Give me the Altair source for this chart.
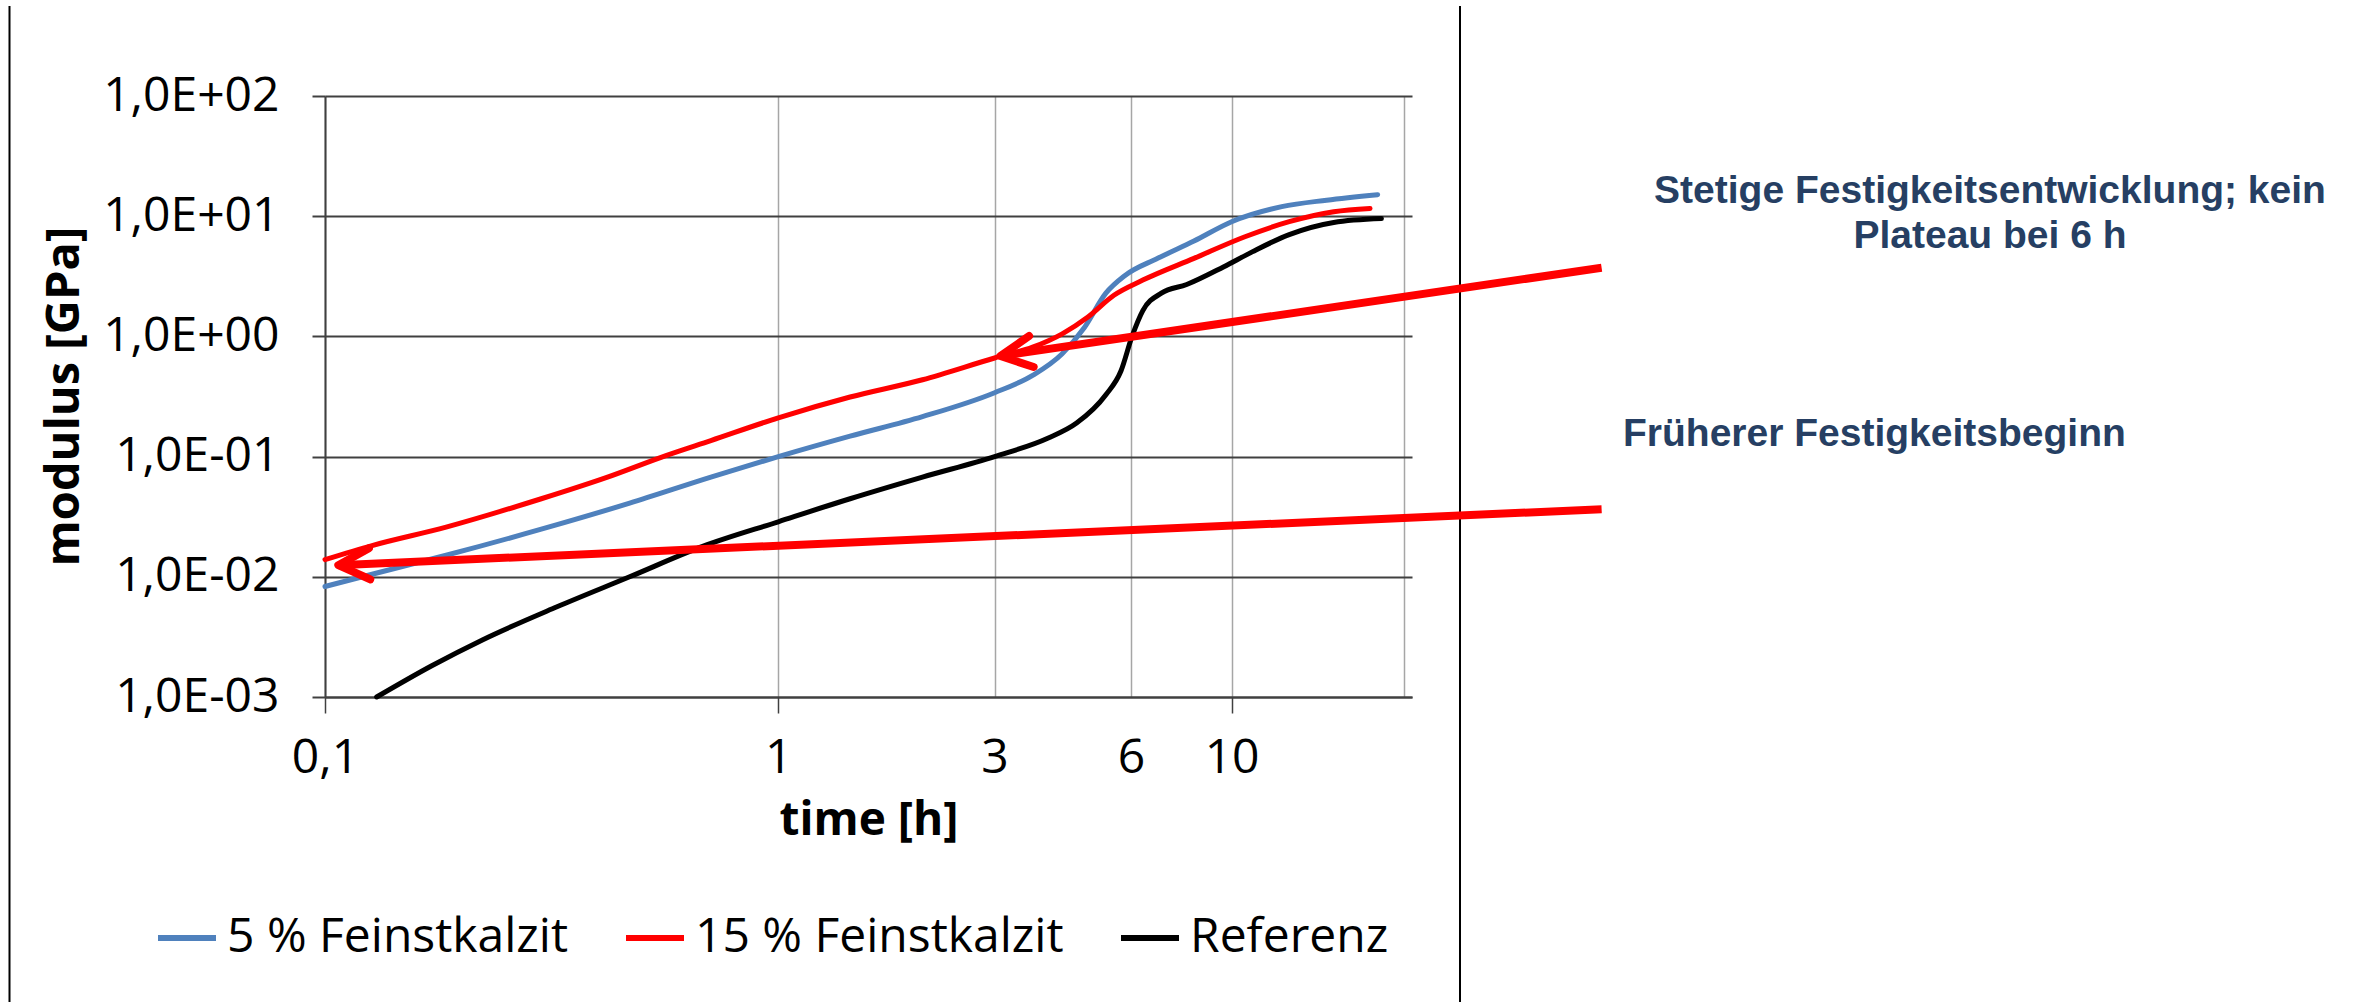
import altair as alt
import pandas as pd

# ---------------- data ----------------
series_names = ["5 % Feinstkalzit", "15 % Feinstkalzit", "Referenz"]
series_colors = ["#4F81BD", "#FF0000", "#000000"]

t_5 = [0.1, 0.127, 0.185, 0.30, 0.47, 0.71, 1.0, 1.44, 2.08, 3.0, 3.64, 4.23, 4.73,
       5.28, 5.81, 6.87, 8.26, 10.0, 12.9, 16.2, 21.0]
v_5 = [0.0083, 0.0105, 0.0151, 0.0249, 0.041, 0.0675, 0.100, 0.148, 0.215, 0.340, 0.474,
       0.718, 1.18, 2.29, 3.20, 4.46, 6.21, 9.0, 12.0, 13.6, 15.1]

t_15 = [0.1, 0.127, 0.185, 0.30, 0.42, 0.565, 0.71, 1.0, 1.44, 2.08, 3.0, 3.64, 4.23,
        4.82, 5.5, 6.37, 8.26, 10.7, 13.4, 16.8, 20.2]
v_15 = [0.0139, 0.0182, 0.0259, 0.0446, 0.0675, 0.102, 0.136, 0.210, 0.313, 0.436, 0.661,
        0.813, 1.05, 1.45, 2.20, 2.94, 4.46, 6.75, 9.0, 10.9, 11.6]

t_ref = [0.130, 0.172, 0.223, 0.324, 0.47, 0.681, 1.0, 1.44, 2.08, 3.0, 3.93, 4.55, 5.28,
         5.70, 6.03, 6.37, 7.0, 7.96, 9.59, 11.1, 13.4, 16.8, 21.4]
v_ref = [0.001, 0.00182, 0.0030, 0.0056, 0.010, 0.0179, 0.0287, 0.0446, 0.0675, 0.100,
         0.142, 0.190, 0.327, 0.515, 1.0, 1.64, 2.29, 2.70, 3.78, 5.05, 7.03, 8.87, 9.55]

x_tick_values = [0.1, 1, 3, 6, 10, 24]
x_tick_labels = ["0,1", "1", "3", "6", "10", ""]
x_ticks_without_mark = [3, 6, 24]
y_tick_values = [0.001, 0.01, 0.1, 1, 10, 100]
y_tick_labels = ["1,0E-03", "1,0E-02", "1,0E-01", "1,0E+00", "1,0E+01", "1,0E+02"]

# annotation arrows (data coordinates: tip points at a curve, tail beyond the plot)
arrow_tip_t = [3.09, 0.107]
arrow_tip_v = [0.686, 0.0125]
arrow_tail_t = [65.5, 65.5]
arrow_tail_v = [3.73, 0.0365]
arrow_head_angle = [351.6, 357.5]

annotation_texts = ["Stetige Festigkeitsentwicklung; kein", "Plateau bei 6 h",
                    "Früherer Festigkeitsbeginn"]

# ---------------- tables ----------------
rows = []
for name, ts, vs in zip(series_names, [t_5, t_15, t_ref], [v_5, v_15, v_ref]):
    for i, (t, v) in enumerate(zip(ts, vs)):
        rows.append({"series": name, "time": t, "modulus": v, "order": i})
df = pd.DataFrame(rows)

arrows_df = pd.DataFrame({
    "t_tip": arrow_tip_t, "v_tip": arrow_tip_v,
    "t_tail": arrow_tail_t, "v_tail": arrow_tail_v,
    "angle": arrow_head_angle,
})


def label_expr(values, labels):
    expr = "''"
    for v, lab in zip(values, labels):
        expr = f"(abs(datum.value - {v}) < {v * 1e-6}) ? '{lab}' : ({expr})"
    return expr


FONT = "Open Sans"
ANN_FONT = "Liberation Sans"
X_TITLE = "time [h]"
Y_TITLE = "modulus [GPa]"

x_scale = alt.Scale(type="log", domain=[0.1, 25], nice=False)
y_scale = alt.Scale(type="log", domain=[0.001, 100], nice=False)

no_tick_test = " || ".join(f"datum.value == {v}" for v in x_ticks_without_mark)

x_axis = alt.Axis(
    values=x_tick_values,
    labelExpr=label_expr(x_tick_values, x_tick_labels),
    labelFont=FONT, labelFontSize=48, labelColor="#000000", labelPadding=21,
    labelFlush=False, labelOverlap=False, labelBound=False,
    tickSize=16, tickColor="#404040", tickWidth=1.5,
    tickOpacity={"condition": {"test": no_tick_test, "value": 0}, "value": 1},
    grid=True, gridColor="#A6A6A6", gridWidth=1.5,
    domainColor="#404040", domainWidth=2,
    titleFont=FONT, titleFontSize=46, titleFontWeight="bold", titleColor="#000000",
    titleY=137, titleBaseline="alphabetic",
)

y_axis = alt.Axis(
    values=y_tick_values,
    labelExpr=label_expr(y_tick_values, y_tick_labels),
    labelFont=FONT, labelFontSize=48, labelColor="#000000", labelPadding=33,
    labelFlush=False, labelOverlap=False, labelBound=False,
    tickSize=13, tickColor="#404040", tickWidth=2,
    grid=True, gridColor="#404040", gridWidth=2,
    domainColor="#404040", domainWidth=2,
    titleFont=FONT, titleFontSize=47, titleFontWeight="bold", titleColor="#000000",
    titleX=-247, titleY=300, titleAngle=270, titleBaseline="alphabetic", titleAlign="center",
)

legend = alt.Legend(
    orient="none", legendX=-170, legendY=810, direction="horizontal",
    symbolType="stroke", symbolSize=3364, symbolStrokeWidth=6,
    labelFont=FONT, labelFontSize=48, labelColor="#000000", labelOffset=8,
    columnPadding=45, padding=0, labelLimit=1000,
)

lines = alt.Chart(df).mark_line(interpolate="monotone", strokeWidth=5, strokeCap="round").encode(
    x=alt.X("time:Q", scale=x_scale, axis=x_axis, title=X_TITLE),
    y=alt.Y("modulus:Q", scale=y_scale, axis=y_axis, title=Y_TITLE),
    color=alt.Color("series:N", scale=alt.Scale(domain=series_names, range=series_colors),
                    legend=legend, title=None, sort=series_names),
    order="order:Q",
)

shafts = alt.Chart(arrows_df).mark_rule(color="#FF0000", strokeWidth=8).encode(
    x=alt.X("t_tail:Q", scale=x_scale, title=X_TITLE),
    y=alt.Y("v_tail:Q", scale=y_scale, title=Y_TITLE),
    x2="t_tip:Q",
    y2="v_tip:Q",
)

heads = alt.Chart(arrows_df).mark_point(
    shape="M 1 -0.5 L 0 0 L 1 0.5", filled=False, size=3920, strokeWidth=8,
    color="#FF0000", opacity=1, strokeCap="round", strokeJoin="round",
).encode(
    x=alt.X("t_tip:Q", scale=x_scale, title=X_TITLE),
    y=alt.Y("v_tip:Q", scale=y_scale, title=Y_TITLE),
    angle=alt.Angle("angle:Q", scale=None),
)

one = pd.DataFrame({"k": [0]})
ANN_COLOR = "#263F63"
ann1 = alt.Chart(one).mark_text(font=ANN_FONT, fontSize=39, fontWeight="bold", color=ANN_COLOR,
                                align="center", baseline="alphabetic").encode(
    x=alt.value(1665), y=alt.value(107), text=alt.value(annotation_texts[0]))
ann2 = alt.Chart(one).mark_text(font=ANN_FONT, fontSize=39, fontWeight="bold", color=ANN_COLOR,
                                align="center", baseline="alphabetic").encode(
    x=alt.value(1665), y=alt.value(152), text=alt.value(annotation_texts[1]))
ann3 = alt.Chart(one).mark_text(font=ANN_FONT, fontSize=39, fontWeight="bold", color=ANN_COLOR,
                                align="left", baseline="alphabetic").encode(
    x=alt.value(1298), y=alt.value(350), text=alt.value(annotation_texts[2]))

frame_left = alt.Chart(one).mark_rule(color="#000000", strokeWidth=2).encode(
    x=alt.value(-315.5), y=alt.value(-90), y2=alt.value(920))
frame_right = alt.Chart(one).mark_rule(color="#000000", strokeWidth=2).encode(
    x=alt.value(1135), y=alt.value(-90), y2=alt.value(920))

chart = alt.layer(
    frame_left, frame_right, lines, shafts, heads, ann1, ann2, ann3
).properties(
    width=1087, height=601,
    autosize=alt.AutoSizeParams(type="none"),
    padding={"left": 325, "top": 96, "right": 952, "bottom": 305},
    background="#FFFFFF",
).configure_view(strokeWidth=0)

chart.save("out.html", embed_options={"renderer": "svg", "actions": False})
